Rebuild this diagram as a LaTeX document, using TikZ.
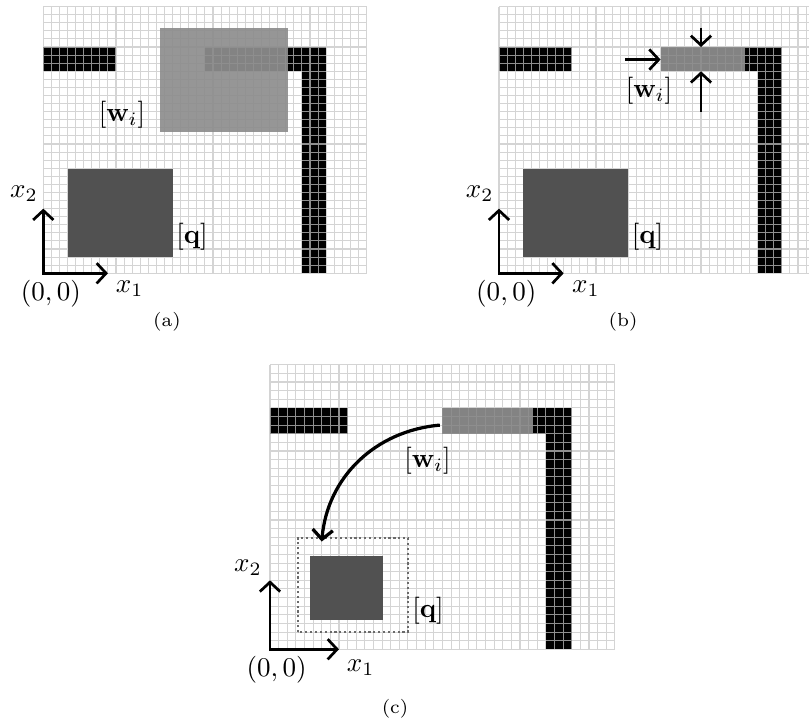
\documentclass[tikz,border=0pt]{standalone}
\usepackage{amsmath}
\usetikzlibrary{arrows.meta, calc, positioning}
\definecolor{cellline}{HTML}{C4C4C4}
\definecolor{winfill}{HTML}{8E8E8E}
\definecolor{qfill}{HTML}{515151}
\definecolor{hullline}{HTML}{6A6A6A}
% occupancy map shared by the three panels
\newcommand{\occmap}[1]{%
  \fill[obst] (0,25) rectangle (9,28);
  \fill[obst] (20,25) rectangle (35,28);
  \fill[obst] (32,0) rectangle (35,25);
  \draw[cellgrid] (0,0) grid (#1,33);
}

\begin{document}
\begin{tikzpicture}[x=0.37pt, y=0.37pt,
  cellgrid/.style={draw=cellline, draw opacity=0.73, line width=0.4pt, step=1},
  obst/.style={fill=black},
  win/.style={fill=winfill, fill opacity=0.93},
  qbox/.style={fill=qfill},
  hull/.style={draw=hullline, densely dotted, line width=0.8pt},
  axis/.style={{Straight Barb[length=3.5pt,width=7.5pt]}-{Straight Barb[length=3.5pt,width=7.5pt]},
               line width=1pt},
  push/.style={-{Straight Barb[length=3.5pt,width=7.5pt]}, line width=1pt},
  subcap/.style={font=\scriptsize}]
  \useasboundingbox (0,0) rectangle (809,726);
  % (a) large window over the map
  \begin{scope}[shift={(43.3,452.7)}, x=2.99pt, y=2.99pt]
    \occmap{40}
    \fill[win] (14.5,17.45) rectangle (30.3,30.3);
    \fill[qbox] (3,2) rectangle (16,12.9);
    \coordinate (oa) at (0,0);
    \coordinate (x1a) at (8,0);
    \coordinate (x2a) at (0,8);
    \draw[axis] (x2a) |- (x1a);
    \node (wa) at (9.74,19.6) {$[\mathbf{w}_i]$};
    \node (qa) at (18.4,4.5) {$[\mathbf{q}]$};
    \node (x2la) at (-2.4,9.85) {$x_2$};
    \node (x1la) at (10.7,-1.95) {$x_1$};
    \node (ola) at (0.95,-2.5) {$(0,0)$};
    \node[subcap] (capa) at (15.3,-6.06) {(a)};
  \end{scope}
  % (b) window squeezed onto the obstacle
  \begin{scope}[shift={(499,452.7)}, x=2.99pt, y=2.99pt]
    \occmap{38.37}
    \fill[win] (20,25) rectangle (30.5,28);
    \fill[qbox] (3,2) rectangle (16,12.9);
    \coordinate (ob) at (0,0);
    \coordinate (x1b) at (8,0);
    \coordinate (x2b) at (0,8);
    \draw[axis] (x2b) |- (x1b);
    \coordinate (wbW) at (20,26.45);
    \coordinate (wbN) at (25,28);
    \coordinate (wbS) at (25,25);
    \coordinate (pbW) at (15.6,26.45);
    \coordinate (pbN) at (25,30.4);
    \coordinate (pbS) at (25,20);
    \draw[push] (pbW) -- (wbW);
    \draw[push] (pbN) -- (wbN);
    \draw[push] (pbS) -- (wbS);
    \node (wb) at (18.56,22.57) {$[\mathbf{w}_i]$};
    \node (qb) at (18.38,4.5) {$[\mathbf{q}]$};
    \node (x2lb) at (-2.4,9.85) {$x_2$};
    \node (x1lb) at (10.75,-1.95) {$x_1$};
    \node (olb) at (0.9,-2.5) {$(0,0)$};
    \node[subcap] (capb) at (15.35,-6.06) {(b)};
  \end{scope}
  % (c) window moved onto the query
  \begin{scope}[shift={(270,76.7)}, x=3.19pt, y=3.19pt]
    \occmap{40}
    \fill[win] (20,25) rectangle (30.5,28);
    \draw[hull] (3.2,2) rectangle (16,12.9);
    \fill[qbox] (4.6,3.4) rectangle (13.05,10.8);
    \coordinate (oc) at (0,0);
    \coordinate (x1c) at (8,0);
    \coordinate (x2c) at (0,8);
    \draw[axis] (x2c) |- (x1c);
    \coordinate (wcW) at (19.7,26);
    \coordinate (hcN) at (6,12.5);
    \draw[push, line width=1.2pt] (wcW) to[out=185, in=85] (hcN);
    \node (wc) at (18.27,21.84) {$[\mathbf{w}_i]$};
    \node (qc) at (18.33,4.44) {$[\mathbf{q}]$};
    \node (x2lc) at (-2.55,9.43) {$x_2$};
    \node (x1lc) at (10.52,-2.17) {$x_1$};
    \node (olc) at (0.78,-2.4) {$(0,0)$};
    \node[subcap] (capc) at (14.5,-6.89) {(c)};
  \end{scope}
\end{tikzpicture}
\end{document}
